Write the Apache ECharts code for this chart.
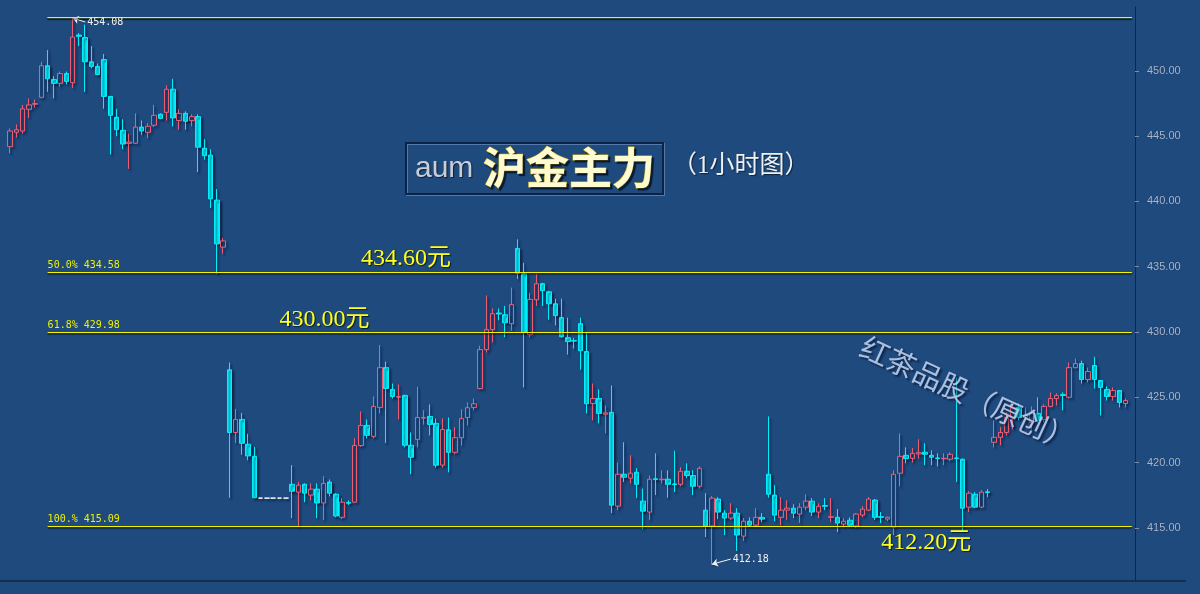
<!DOCTYPE html>
<html><head><meta charset="utf-8">
<script src="https://cdn.jsdelivr.net/npm/echarts@6/dist/echarts.min.js"></script>
<style>html,body{margin:0;padding:0;background:#1e4a7e;}#chart{width:1200px;height:594px;}</style>
</head><body><div id="chart"></div>
<script>
// ---- data (1-hour bars) ----
const open = [444.2,445.3,445.4,447.06,447.45,447.98,450.4,449.35,449.05,449.8,449.1,452.75,452.56,450.7,450.35,450.88,448.05,446.45,445.45,444.45,
444.46,445.7,445.3,445.84,446.68,446.83,448.6,446.2,446.75,446.2,446.5,444.08,443.55,440.1,436.5,427.1,422.3,423.3,421.4,420.47,
417.27,417.27,417.27,417.27,417.27,418.33,417.73,418.33,417.5,417.96,416.9,418.5,417.57,415.8,416.93,416.96,421.3,422.84,422.0,424.22,
427.27,425.6,425.0,425.14,421.32,421.77,423.4,423.53,423.0,419.8,422.5,420.78,421.9,423.45,424.22,425.67,428.65,430.18,431.45,431.32,
430.64,436.4,434.46,429.8,432.47,433.7,433.08,432.16,431.1,429.56,429.35,430.64,428.5,424.52,424.9,423.7,423.84,416.66,419.1,418.8,
419.25,417.04,416.2,418.75,418.68,418.72,418.36,418.33,419.33,419.0,418.18,416.35,415.13,417.2,416.12,415.74,416.12,414.36,415.5,415.2,
415.8,419.1,417.5,415.8,416.35,416.5,416.05,416.58,417.04,416.2,416.7,415.8,415.8,415.28,415.58,415.13,415.97,416.35,417.12,415.85,
415.66,415.05,419.18,420.55,420.32,420.65,420.78,420.55,420.35,420.28,420.25,420.35,420.25,416.58,417.57,416.58,417.75,421.55,421.93,422.3,
423.45,424.2,423.45,423.07,423.76,423.3,424.3,424.9,425.2,425.0,427.27,427.58,426.36,427.43,426.28,425.6,425.06,425.52,424.52];
const close = [445.4,445.5,447.1,447.4,447.5,450.4,449.4,449.05,449.8,449.2,452.6,452.65,450.7,450.35,449.73,448.05,446.6,445.5,444.4,444.55,
445.7,445.4,445.76,446.6,446.37,448.6,446.4,446.75,446.14,446.5,444.16,443.5,440.2,436.75,436.98,422.3,423.3,421.47,420.5,417.3,
417.27,417.27,417.27,417.27,417.27,417.8,418.26,417.65,417.96,416.9,418.4,417.65,415.9,416.96,416.88,421.3,422.84,422.08,424.3,427.27,
425.67,425.06,425.05,421.32,420.4,423.45,423.45,422.92,419.79,422.53,420.78,421.9,423.38,424.2,424.5,428.65,430.18,431.4,431.38,430.7,
432.1,434.5,429.95,432.5,433.7,433.16,432.16,431.25,429.64,429.26,429.3,428.57,424.5,424.9,423.76,423.8,416.73,419.1,418.87,419.18,
418.33,416.27,418.72,418.7,418.72,418.33,418.3,419.33,419.0,418.18,419.56,415.13,417.27,416.2,415.74,416.12,414.44,415.5,415.2,415.8,
415.66,417.57,415.97,416.35,416.5,416.12,416.58,417.04,416.2,416.65,416.65,415.85,415.36,415.5,415.2,416.05,416.43,417.2,415.8,415.8,
415.8,419.1,420.47,420.3,420.7,420.75,420.63,420.4,420.3,420.32,420.63,420.3,416.5,417.65,416.58,417.73,417.7,421.93,422.3,423.45,
424.2,423.45,423.6,423.76,423.23,424.3,424.9,425.14,425.14,427.27,427.58,426.36,426.97,426.36,425.75,425.06,425.52,424.6,424.75];
const low = [443.7,444.9,445.2,446.4,447.2,447.9,448.4,447.9,448.8,448.97,448.7,451.9,448.4,450.2,449.66,447.1,443.6,445.0,444.0,442.5,
444.4,445.1,444.85,445.7,446.3,446.2,445.76,445.5,445.5,445.76,442.25,443.2,439.5,434.45,436.0,417.3,421.5,420.6,420.17,417.27,
417.27,417.27,417.27,417.27,417.27,415.74,415.05,416.96,417.1,415.74,415.6,417.4,415.8,415.66,416.75,416.9,421.2,421.85,421.85,423.76,
421.5,424.9,423.3,421.16,419.1,421.16,422.9,422.08,419.6,419.6,419.25,420.63,421.3,422.84,424.0,425.6,428.42,429.2,430.9,429.6,
430.1,434.07,425.75,429.6,432.0,432.0,430.94,430.5,429.56,428.27,428.73,427.1,423.76,423.23,423.0,422.23,416.12,416.35,418.5,418.4,
417.27,414.9,415.6,417.5,418.4,417.3,417.73,418.18,418.8,417.5,418.0,414.29,412.18,415.66,414.44,415.6,413.22,414.0,415.13,415.05,
415.43,417.3,415.5,415.2,415.6,415.74,415.36,416.35,415.9,415.74,416.35,415.43,414.67,415.05,415.05,414.98,415.8,416.27,415.6,415.36,
415.5,414.44,418.18,419.94,420.0,420.3,419.79,419.8,419.7,419.8,420.1,418.5,414.67,416.2,416.5,416.5,417.35,421.16,421.32,422.08,
422.54,423.23,423.23,422.46,423.07,423.07,424.22,424.37,424.0,424.9,427.2,426.05,426.13,425.67,423.6,424.75,424.75,424.22,424.22];
const high = [445.6,445.9,447.4,447.9,447.8,450.7,451.6,449.6,449.96,449.96,454.08,452.9,453.55,451.9,450.57,451.3,448.05,447.1,446.3,445.2,
446.75,446.2,446.0,447.4,446.75,448.9,449.4,447.06,446.9,446.68,446.68,444.77,444.0,440.95,437.2,427.66,424.1,423.8,422.2,421.2,
417.27,417.27,417.27,417.27,417.27,419.8,418.5,418.4,418.4,418.4,418.95,418.7,417.65,417.27,417.1,421.85,423.9,423.3,425.06,429.0,
427.73,426.05,425.98,425.2,422.3,425.8,424.0,424.45,423.38,423.38,423.45,422.7,424.07,424.6,424.9,428.95,432.8,431.8,431.8,432.0,
433.4,437.1,435.3,433.0,434.46,433.77,433.16,432.55,432.55,431.1,429.56,431.1,430.0,426.05,425.6,424.37,425.9,420.0,421.55,420.55,
419.56,418.0,419.0,420.7,419.4,419.4,420.9,419.64,419.94,419.4,419.7,417.65,417.42,417.35,416.35,416.88,416.5,415.74,415.8,416.5,
416.12,423.53,418.26,417.35,417.1,416.8,416.88,417.57,417.27,416.88,417.27,417.27,416.43,415.74,415.8,416.12,416.65,417.35,417.2,416.2,
415.85,419.4,422.23,421.16,421.1,421.78,421.47,420.93,420.7,420.7,420.78,426.5,420.3,417.8,417.73,417.88,417.96,423.23,422.7,423.84,
424.52,424.52,424.22,424.3,425.0,424.45,425.37,425.3,425.37,427.66,427.96,427.8,427.27,428.1,426.28,425.83,425.75,425.52,424.9];
// bar slots (one spare slot at the right edge)
const categories = Array.from({length: open.length + 1}, (_, i) => String(i + 1));
const yTicks = [415, 420, 425, 430, 435, 440, 445, 450];
const fibLevels = [454.08, 434.58, 429.98, 415.09];
const fibLabels = ['', '50.0% 434.58', '61.8% 429.98', '100.% 415.09'];
const lowMark = 412.18, highMark = 454.08;

const candleData = open.map((o, i) => [o, close[i], low[i], high[i]]);
const lastSlot = categories.length - 1;
const fibStart = 6;

const chart = echarts.init(document.getElementById('chart'));
const monoLabel = {color:'#f2f2f2', fontSize:10, fontFamily:'DejaVu Sans Mono', distance:2};
const bigLabel = {color:'#ffff1e', fontSize:24, fontFamily:'"Liberation Serif","Noto Sans CJK SC"',
  textShadowColor:'rgba(0,0,0,0.65)', textShadowOffsetX:1, textShadowOffsetY:1, textShadowBlur:1, distance:0};
const fibLine = {color:'#f2f200', width:1.2, type:'solid', shadowColor:'rgba(0,0,0,0.7)', shadowOffsetY:1.5, shadowBlur:1};

chart.setOption({
  animation:false,
  backgroundColor:'#1e4a7e',
  grid:{left:6.87, right:65, top:7, bottom:13},
  xAxis:{type:'category', data:categories, boundaryGap:true,
    axisLine:{show:false}, axisTick:{show:false}, axisLabel:{show:false}, splitLine:{show:false}},
  yAxis:{type:'value', position:'right', min:410.92, max:454.90,
    axisLine:{show:true, lineStyle:{color:'#1a2535', width:1}},
    axisTick:{show:true, length:4, customValues:yTicks, lineStyle:{color:'#7f8ea5'}},
    axisLabel:{show:true, customValues:yTicks, formatter:v => v.toFixed(2), color:'#aab7c9', fontSize:11,
      fontFamily:'"Liberation Sans"', margin:12, textShadowColor:'rgba(0,0,0,0.35)', textShadowBlur:1},
    splitLine:{show:false}},
  series:[{
    name:'arrows', type:'line', data:[], silent:true, z:1,
    markLine:{
      silent:true, animation:false, symbol:['none','arrow'], symbolSize:6,
      lineStyle:{color:'#f4f4f4', width:1, type:'solid'},
      label:{show:false},
      data:[
        [{coord:[12, 453.75]}, {coord:[10, 454.05]}],
        [{coord:[115, 412.6]}, {coord:[112, 412.2]}]
      ]
    }
  }, {
    name:'aum', type:'candlestick', data:candleData, barWidth:5, z:2,
    itemStyle:{color:'rgba(0,0,0,0)', color0:'#00effd', borderColor:'#ec5d72', borderColor0:'#00effd',
      borderColorDoji:'#ffffff', borderWidth:1,
      shadowColor:'rgba(5,15,40,0.6)', shadowBlur:2, shadowOffsetX:2, shadowOffsetY:2},
    markPoint:{
      silent:true, animation:false, symbol:'circle', symbolSize:0,
      label:{show:true, position:'right', formatter:'{b}'},
      data:[
        {name:highMark.toFixed(2), coord:[12, 453.75], label:monoLabel},
        {name:lowMark.toFixed(2), coord:[115, 412.6], label:monoLabel},
        {name:'434.60元', coord:[56, 435.59], label:bigLabel},
        {name:'430.00元', coord:[43, 430.92], label:bigLabel},
        {name:'412.20元', coord:[139, 413.83], label:bigLabel}
      ]
    }
  }, {
    name:'fib', type:'line', data:[], silent:true, z:5,
    markLine:{
      silent:true, animation:false, symbol:['none','none'],
      lineStyle:fibLine,
      label:{show:true, position:'insideStartTop', formatter:'{b}', color:'#f0f000', fontSize:10,
        fontFamily:'DejaVu Sans Mono', distance:[0,2]},
      data: fibLevels.map((v, i) => [
          {coord:[fibStart, v], name:fibLabels[i], lineStyle:fibLine, label:{show:fibLabels[i] !== ''}},
          {coord:[lastSlot, v], lineStyle:fibLine}
        ])
    }
  }, {
    name:'fibTop', type:'line', data:[], silent:true, z:10,
    markArea:{
      silent:true, animation:false, label:{show:false},
      itemStyle:{color:'#f2f200', borderWidth:0, shadowColor:'rgba(0,0,0,0.6)', shadowOffsetY:1.5, shadowBlur:1},
      data:[[{coord:[fibStart, highMark + 0.05]}, {coord:[lastSlot, highMark - 0.05]}]]
    }
  }],
  graphic:[
    {type:'line', silent:true, shape:{x1:0, y1:581, x2:1186, y2:581}, style:{stroke:'#16263a', lineWidth:1.5}},
    {type:'rect', silent:true, shape:{x:406, y:143, width:257, height:51},
      style:{fill:'rgba(0,0,0,0)', stroke:'#0b2345', lineWidth:2, shadowColor:'rgba(150,180,225,0.45)', shadowOffsetX:1, shadowOffsetY:1}},
    {type:'text', silent:true, x:415, y:169, style:{text:'aum', fontSize:30, fontFamily:'"Liberation Sans"', fill:'#c9cdd6',
      verticalAlign:'middle', textShadowColor:'rgba(0,0,0,0.6)', textShadowOffsetX:1, textShadowOffsetY:1, textShadowBlur:1}},
    {type:'text', silent:true, x:483, y:168, style:{text:'沪金主力', fontSize:43, fontWeight:'bold', fontFamily:'"Noto Sans CJK SC"',
      fill:'#fffbd0', stroke:'#d9b81c', lineWidth:1, verticalAlign:'middle',
      textShadowColor:'rgba(0,0,0,0.6)', textShadowOffsetX:2, textShadowOffsetY:2, textShadowBlur:1}},
    {type:'text', silent:true, x:672, y:166, style:{text:'（1小时图）', fontSize:25, fontFamily:'"Liberation Serif","Noto Sans CJK SC"',
      fill:'#eef0f4', verticalAlign:'middle', textShadowColor:'rgba(0,0,0,0.55)', textShadowOffsetX:1, textShadowOffsetY:1, textShadowBlur:1}},
    {type:'text', silent:true, z:100, x:862, y:345, rotation:-0.43, style:{text:'红茶品股（原创）', fontSize:29,
      fontFamily:'"Noto Sans CJK SC"', fill:'rgba(186,206,234,0.9)', align:'left', verticalAlign:'middle',
      textShadowColor:'rgba(0,0,30,0.6)', textShadowOffsetX:2, textShadowOffsetY:2, textShadowBlur:2}}
  ]
});
</script></body></html>
